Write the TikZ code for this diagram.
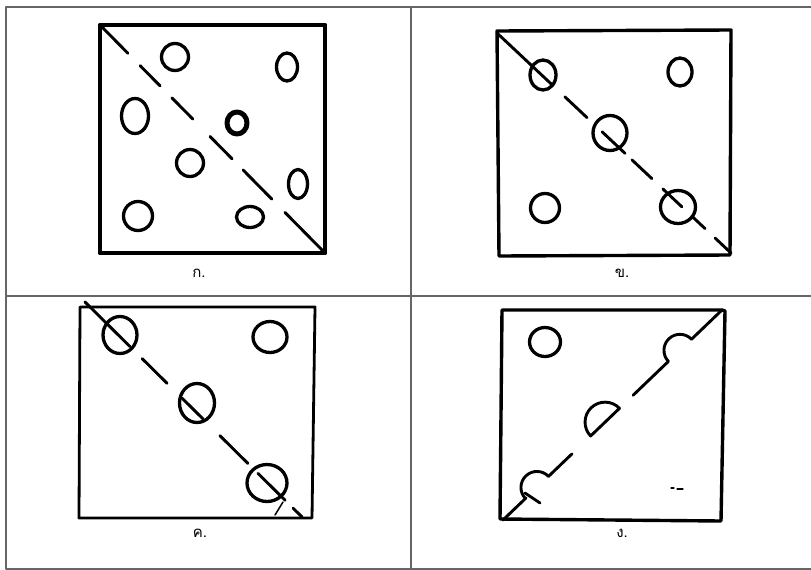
\documentclass[tikz,border=0pt]{standalone}
\usepackage{fontspec}
\newfontfamily\thaifont[Script=Thai]{Loma}
\usetikzlibrary{calc}
\begin{document}
\begin{tikzpicture}[x=1pt,y=-1pt,line cap=round,line join=round,
  frame/.style={black!60,line width=1.3pt},
  sq/.style={line width=3.4pt},
  ring/.style={line width=3.3pt},
  cut/.style={line width=2.9pt},
  lab/.style={font=\thaifont\fontsize{15}{15}\selectfont,inner sep=0pt}]
\useasboundingbox (0,0) rectangle (811,570);
% table frame
\draw[frame] (811,7) -- (6,7) -- (6,569) -- (811,569);
\draw[frame] (411,7) -- (411,569);
\draw[frame] (6,296) -- (811,296);

% ---------- panel 1 ----------
\coordinate (a1) at (100,25); \coordinate (b1) at (325,253);
\draw[sq] (a1) rectangle (b1);
\draw[sq,line width=4.2pt] (100,25) -- (325,25) (100,253) -- (325,253);
\foreach \s/\e in {0.013/0.124,0.178/0.267,0.32/0.413,0.489/0.587,0.636/0.764,0.822/0.987}
  \draw[cut] ($(a1)!\s!(b1)$) -- ($(a1)!\e!(b1)$);
\draw[ring] (175,57) ellipse[x radius=13.5,y radius=13.5];
\draw[ring] (287,67) ellipse[x radius=10.5,y radius=14];
\draw[ring] (135,116) ellipse[x radius=13.5,y radius=17.5];
\draw[ring,line width=5pt] (237,123) ellipse[x radius=10,y radius=11];
\draw[ring] (190,163) ellipse[x radius=13.5,y radius=13.5];
\draw[ring] (298,184) ellipse[x radius=9.5,y radius=14.5];
\draw[ring] (138,216) ellipse[x radius=14.5,y radius=14.5];
\draw[ring] (250,217) ellipse[x radius=13.5,y radius=10.5];
\node[lab] (l1) at (199,273) {ก.};

% ---------- panel 2 ----------
\coordinate (a2) at (497,33); \coordinate (b2) at (731,253);
\draw[sq] (497,31) -- (731,30) -- (730,255) -- (499,256) -- cycle;
\foreach \s/\e in {0.0/0.235,0.29/0.385,0.449/0.547,0.577/0.662,0.709/0.79,0.833/0.889,0.932/1.0}
  \draw[cut] ($(a2)!\s!(b2)$) -- ($(a2)!\e!(b2)$);
\draw[ring] (543,75) ellipse[x radius=13,y radius=15];
\draw[ring] (680,72) ellipse[x radius=12,y radius=14];
\draw[ring] (610,133) ellipse[x radius=17,y radius=17.5];
\draw[ring] (545,208) ellipse[x radius=14.5,y radius=14.5];
\draw[ring] (678,207) ellipse[x radius=17.5,y radius=16.5];
\node[lab] (l2) at (622,273) {ข.};

% ---------- panel 3 ----------
\coordinate (a3) at (85,302); \coordinate (b3) at (302,517);
\draw[sq,line width=2.8pt] (80,307) -- (315,307) -- (312,518) -- (79,518) -- cycle;
\foreach \s/\e in {0.0/0.207,0.263/0.378,0.447/0.544,0.622/0.751,0.797/0.922,0.959/1.0}
  \draw[cut] ($(a3)!\s!(b3)$) -- ($(a3)!\e!(b3)$);
\draw[ring] (120,335) ellipse[x radius=17,y radius=18.5];
\draw[ring] (270,337) ellipse[x radius=17,y radius=15.5];
\draw[ring] (197,403) ellipse[x radius=17.5,y radius=19.5];
\draw[ring] (267,483) ellipse[x radius=20,y radius=18.5];
\draw[line width=1.5pt] (275,515) -- (283,502);
\node[lab] (l3) at (200,533) {ค.};

% ---------- panel 4 ----------
\coordinate (a4) at (503,520); \coordinate (b4) at (722,310);
\draw[sq] (502,310) -- (722,310) -- (725,311) -- (721,521) -- (500,519) -- cycle;
\coordinate (h1) at ($(a4)!0.155!(b4)$);
\coordinate (hd) at ($(a4)!0.466!(b4)$);
\coordinate (h2) at ($(a4)!0.808!(b4)$);
\draw[cut] (a4) -- ($(a4)!0.105!(b4)$);
\draw[cut] ($(h1)+(136.2:16)$) arc[start angle=136.2,end angle=316.2,radius=16];
\draw[cut] ($(a4)!0.208!(b4)$) -- ($(a4)!0.315!(b4)$);
\draw[cut] (525,493) -- (540,503);
\draw[cut] ($(hd)+(136.2:20)$) arc[start angle=136.2,end angle=316.2,radius=20] -- cycle;
\draw[cut] ($(a4)!0.594!(b4)$) -- ($(h2)+(136.2:16)$)
  arc[start angle=136.2,end angle=316.2,radius=16] -- (b4);
\draw[ring] (545,342) ellipse[x radius=15.5,y radius=14.5];
\draw[line width=1.2pt] (671,488) -- (674,488) (677,489) -- (683,489);
\node[lab] (l4) at (622,533) {ง.};
\end{tikzpicture}
\end{document}
